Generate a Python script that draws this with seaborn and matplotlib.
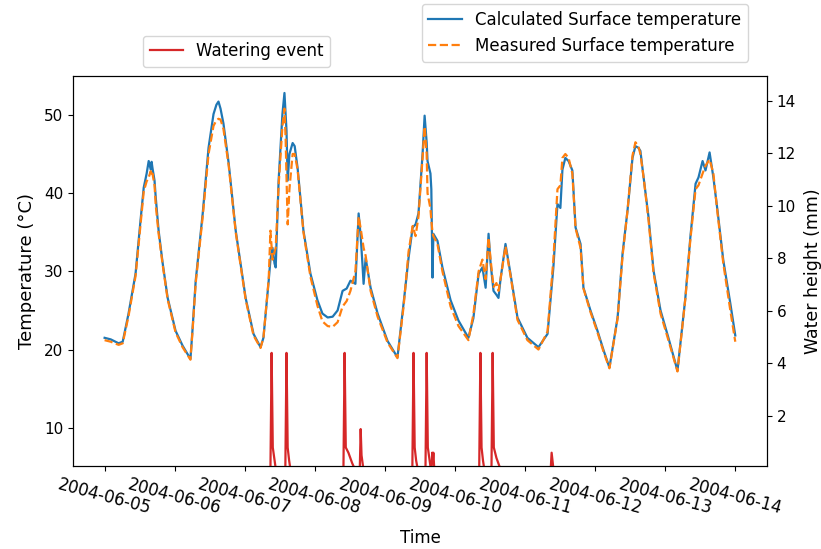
import pandas as pd
import seaborn as sns
import matplotlib
matplotlib.use('Agg')
import matplotlib.pyplot as plt
import matplotlib.dates as mdates

# hours since 2004-06-05 00:00
hours = [0.0, 2.1, 4.8, 6.2, 8.2, 10.6, 12.3, 13.4, 14.4, 15.1, 15.8, 16.1, 16.4, 17.1, 17.5,
         18.5, 19.9, 21.6, 24.3, 26.7, 29.4, 30.1, 31.2, 33.6, 35.6, 37.3, 38.3, 39.0, 39.7,
         40.7, 42.5, 44.9, 48.3, 51.0, 53.4, 54.4, 56.2, 56.8, 57.5, 58.2, 58.6, 59.6, 60.9,
         61.6, 62.0, 62.3, 62.7, 63.3, 64.4, 65.1, 66.1, 68.1, 70.5, 72.9, 74.6, 76.4, 78.1,
         79.8, 81.5, 82.9, 84.2, 85.9, 87.0, 87.7, 88.3, 88.7, 89.4, 91.1, 93.5, 96.9, 100.3,
         102.4, 104.1, 105.5, 106.5, 107.5, 108.9, 109.6, 110.3, 110.6, 111.6, 111.9, 112.3,
         112.6, 114.0, 115.7, 118.5, 121.2, 124.6, 126.3, 128.1, 129.4, 130.5, 131.5, 132.2,
         133.2, 134.2, 134.9, 135.6, 137.3, 139.0, 141.4, 144.8, 148.6, 151.7, 153.7, 155.1,
         156.1, 156.8, 157.8, 158.9, 160.2, 161.3, 163.0, 164.0, 166.4, 168.8, 170.9, 172.9,
         175.7, 177.4, 179.1, 180.8, 181.8, 182.8, 183.5, 184.6, 186.3, 188.0, 190.4, 193.1,
         196.2, 198.9, 200.6, 202.4, 203.4, 204.8, 205.8, 207.2, 208.5, 209.9, 211.9, 214.3,
         216.0]

calc_temp = [21.5, 21.3, 20.8, 21.0, 24.6, 29.7, 36.5, 40.7, 42.5, 44.1, 43.0, 44.0, 43.2, 41.6, 39.5,
             35.2, 31.0, 26.6, 22.4, 20.5, 18.8, 22.5, 28.8, 37.4, 45.8, 50.1, 51.3, 51.7, 50.8,
             48.9, 43.8, 35.2, 26.6, 22.0, 20.3, 21.5, 28.8, 31.5, 33.0, 31.0, 30.5, 41.6, 50.1,
             52.8, 50.0, 48.0, 41.6, 45.0, 46.4, 46.0, 43.2, 35.2, 29.7, 26.3, 24.6, 24.1, 24.2,
             25.0, 27.5, 27.8, 28.8, 28.4, 37.4, 34.5, 31.0, 28.4, 31.7, 27.9, 24.6, 21.1, 19.0,
             25.9, 31.7, 35.6, 36.0, 37.4, 45.0, 49.9, 46.5, 44.1, 42.5, 40.5, 29.2,
             34.8, 33.9, 30.5, 26.3, 23.7, 21.5, 24.0, 29.7, 30.5, 27.9, 34.8, 31.0,
             27.5, 27.0, 26.6, 29.0, 33.5, 29.7, 24.1, 21.5, 20.3, 22.0, 30.5, 38.6,
             38.1, 43.0, 44.5, 44.1, 42.9, 35.6, 33.5, 27.9, 25.0, 22.4, 19.9, 17.7,
             24.1, 32.3, 37.8, 44.5, 46.0, 45.8, 45.4, 42.0, 36.9, 30.1, 25.0, 21.5,
             17.3, 26.6, 34.3, 41.2, 42.0, 44.1, 42.9, 45.2, 42.0, 37.8, 31.4, 25.9,
             21.8]

meas_temp = [21.2, 21.0, 20.6, 20.8, 24.3, 29.4, 36.0, 40.2, 41.5, 42.0, 42.8, 42.2, 42.5, 41.0, 38.5,
             34.8, 30.8, 26.4, 22.2, 20.3, 18.7, 22.3, 28.5, 37.0, 45.0, 48.6, 49.3, 49.5, 49.4,
             48.2, 43.5, 35.0, 26.4, 21.8, 20.2, 21.5, 29.0, 35.2, 31.5, 32.5, 33.0, 41.0, 48.5,
             50.8, 47.0, 42.0, 36.0, 40.5, 45.0, 45.0, 43.0, 35.0, 29.3, 25.6, 23.6, 23.0, 22.9,
             23.5, 25.5, 26.2, 27.5, 30.0, 37.0, 35.5, 34.0, 33.0, 32.0, 27.5, 24.2, 20.9, 18.9,
             25.5, 32.5, 35.8, 34.5, 37.0, 44.5, 48.5, 45.0, 40.0, 38.0, 36.5, 35.0,
             34.5, 33.5, 30.0, 25.5, 23.0, 21.2, 24.5, 30.0, 31.5, 29.0, 34.3, 31.5,
             28.0, 28.5, 27.5, 29.0, 33.2, 29.5, 23.8, 21.2, 20.0, 22.3, 31.5, 40.5,
             41.0, 44.5, 45.0, 44.5, 42.5, 35.5, 33.0, 27.8, 24.8, 22.2, 19.7, 17.6,
             24.0, 32.0, 37.8, 44.8, 46.5, 46.0, 45.0, 42.0, 36.5, 29.8, 24.6, 21.2,
             17.2, 26.5, 34.0, 40.5, 41.0, 42.5, 43.5, 44.3, 42.5, 37.5, 31.0, 25.0,
             21.0]

water_hours = [0.0, 56.8, 57.2, 57.6, 58.1, 58.6, 61.9, 62.3, 62.7, 63.2, 63.6,
               81.8, 82.2, 82.6, 83.5, 84.8, 85.6, 87.4, 87.7, 88.0, 88.6,
               105.4, 105.8, 106.2, 106.7, 107.2, 109.9, 110.3, 110.7, 111.2, 111.7,
               112.0, 112.2, 112.4, 112.6, 112.9, 128.3, 128.7, 129.1, 129.6, 130.0,
               132.5, 132.9, 133.3, 134.2, 135.5, 152.8, 153.1, 153.7, 216.0]
water_mm = [0, 0, 4.4, 0.8, 0.4, 0, 0, 4.4, 0.8, 0.3, 0,
            0, 4.4, 0.8, 0.6, 0.2, 0, 0, 1.5, 0.5, 0,
            0, 4.4, 0.8, 0.3, 0, 0, 4.4, 0.8, 0.4, 0,
            0, 0.6, 0.3, 0.6, 0, 0, 4.4, 0.8, 0.3, 0,
            0, 4.4, 0.8, 0.4, 0, 0, 0.6, 0, 0]

start = pd.Timestamp('2004-06-05')
temp = pd.DataFrame({'time': start + pd.to_timedelta(hours, unit='h'),
                     'calc': calc_temp, 'meas': meas_temp})
water = pd.DataFrame({'time': start + pd.to_timedelta(water_hours, unit='h'),
                      'mm': water_mm})

plt.rcParams['font.size'] = 12

fig = plt.figure(figsize=(8.21, 5.49), dpi=100)
ax = fig.add_axes([0.089, 0.151, 0.845, 0.711])
ax2 = ax.twinx()

sns.lineplot(data=temp, x='time', y='calc', ax=ax, color='tab:blue',
             linewidth=1.6, label='Calculated Surface temperature')
sns.lineplot(data=temp, x='time', y='meas', ax=ax, color='tab:orange',
             linewidth=1.6, linestyle='--', label='Measured Surface temperature')
sns.lineplot(data=water, x='time', y='mm', ax=ax2, color='tab:red',
             linewidth=1.6, label='Watering event')

ax.set_ylim(5.1, 55.0)
ax2.set_ylim(0.09, 14.95)

ax.xaxis.set_major_locator(mdates.DayLocator())
ax.xaxis.set_major_formatter(mdates.DateFormatter('%Y-%m-%d'))
for lbl in ax.get_xticklabels():
    lbl.set_rotation(-15)
    lbl.set_ha('center')
ax.tick_params(axis='y', labelsize=11)
ax2.tick_params(axis='y', labelsize=11)

ax.set_xlabel('Time', labelpad=8)
ax.set_ylabel('Temperature (°C)', fontsize=13, labelpad=6)
ax2.set_ylabel('Water height (mm)', fontsize=12.5, labelpad=6)

ax.legend(loc='upper right', bbox_to_anchor=(0.911, 0.993),
          bbox_transform=fig.transFigure, borderaxespad=0)
ax2.legend(loc='lower left', bbox_to_anchor=(0.174, 0.878),
           bbox_transform=fig.transFigure, borderaxespad=0)

fig.savefig('out.png', dpi=100)
